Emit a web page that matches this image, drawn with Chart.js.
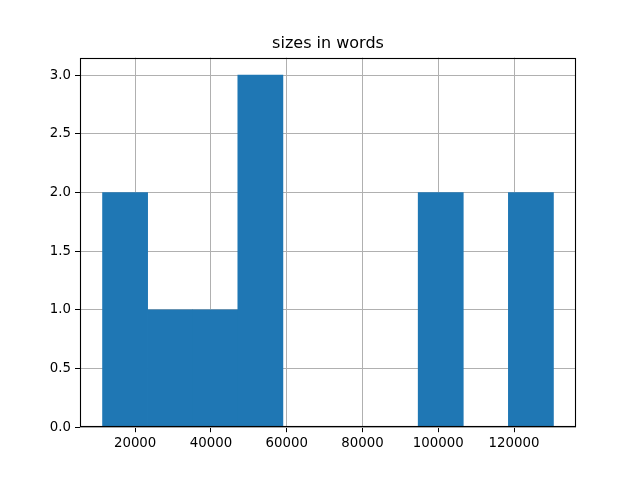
<!DOCTYPE html>
<html>
<head>
<meta charset="utf-8">
<script src="https://cdn.jsdelivr.net/npm/chart.js@4/dist/chart.umd.min.js"></script>
<style>
  html, body { margin: 0; padding: 0; background: #fff; }
</style>
</head>
<body>
<canvas id="chart" width="640" height="480"></canvas>
<script>
// histogram of document sizes, 10 bins
const titleText = "sizes in words";
const binStart = 11400;
const binWidth = 11900;
const counts = [2, 1, 1, 3, 0, 0, 0, 2, 0, 2];
const xTickValues = [20000, 40000, 60000, 80000, 100000, 120000];
const yTickValues = [0, 0.5, 1, 1.5, 2, 2.5, 3];

// empty bins are left out so no hairline is drawn at the baseline
const barData = counts.map((c, i) => ({ x: binStart + binWidth * (i + 0.5), y: c > 0 ? c : null }));

// matplotlib-style box around the axes, plus the title centred over the axes
const frame = {
  id: "frame",
  afterDraw(chart) {
    const { ctx, chartArea: a } = chart;
    const l = Math.round(a.left) + 0.5, r = Math.round(a.right) - 0.5;
    const t = Math.round(a.top) + 0.5, b = Math.round(a.bottom) - 0.5;
    ctx.save();
    ctx.strokeStyle = "#000";
    ctx.lineWidth = 1.1;
    ctx.strokeRect(l, t, r - l, b - t);
    ctx.fillStyle = "#000";
    ctx.font = "16px 'DejaVu Sans', sans-serif";
    ctx.textAlign = "center";
    ctx.textBaseline = "alphabetic";
    ctx.fillText(titleText, (a.left + a.right) / 2, a.top - 9.5);
    ctx.restore();
  }
};

const tickFont = { family: "'DejaVu Sans', sans-serif", size: 13.33 };

new Chart(document.getElementById("chart"), {
  type: "bar",
  data: {
    datasets: [{
      data: barData,
      backgroundColor: "#1f77b4",
      borderWidth: 0,
      barPercentage: 1,
      categoryPercentage: 1
    }]
  },
  options: {
    responsive: false,
    animation: false,
    layout: { padding: { left: 0, right: 64, top: 57.6, bottom: 0 } },
    plugins: {
      legend: { display: false },
      tooltip: { enabled: false },
      title: { display: false }
    },
    scales: {
      x: {
        type: "linear",
        min: 5450,
        max: 136350,
        offset: false,
        z: 1,
        border: { display: false },
        grid: { offset: false, color: "#b0b0b0", lineWidth: 1, tickColor: "#000", tickLength: 5 },
        ticks: { color: "#000", font: tickFont, padding: 3, maxRotation: 0, callback: v => String(v) },
        afterBuildTicks: s => { s.ticks = xTickValues.map(v => ({ value: v })); },
        afterFit: s => { s.height = 52.8; }
      },
      y: {
        min: 0,
        max: 3.15,
        z: 1,
        border: { display: false },
        grid: { color: "#b0b0b0", lineWidth: 1, tickColor: "#000", tickLength: 5 },
        ticks: { color: "#000", font: tickFont, padding: 4, callback: v => v.toFixed(1) },
        afterBuildTicks: s => { s.ticks = yTickValues.map(v => ({ value: v })); },
        afterFit: s => { s.width = 80; }
      }
    }
  },
  plugins: [frame]
});
</script>
</body>
</html>
